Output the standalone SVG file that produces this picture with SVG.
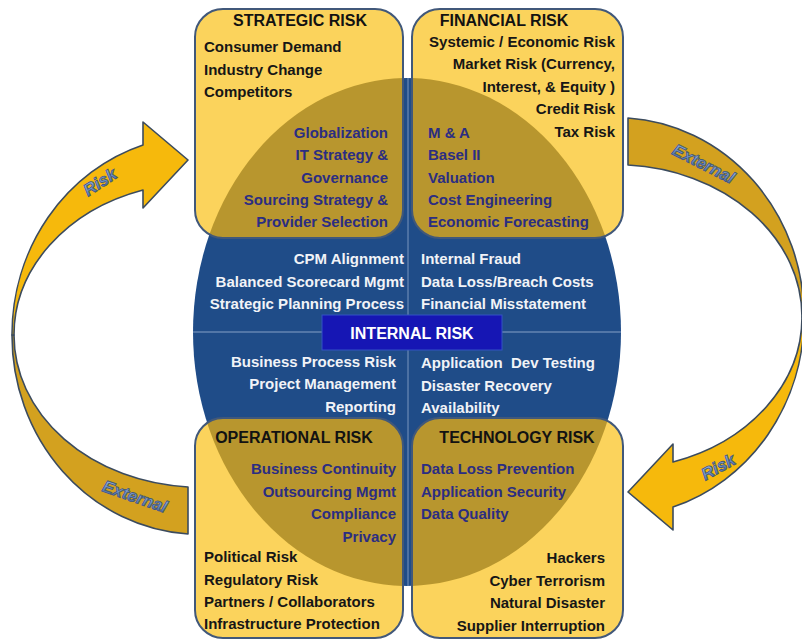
<svg xmlns="http://www.w3.org/2000/svg" xmlns:xlink="http://www.w3.org/1999/xlink" width="802" height="640" viewBox="0 0 802 640">
  <style>
    .box { fill: #FBD35C; }
    .edge { fill: none; stroke: #41587A; stroke-width: 2; }
    .overlap { fill: #B8962E; }
    .core { fill: #1F4C88; }
    .divider { stroke: #6585B2; stroke-width: 1.3; }
    .t { font-family: "Liberation Sans", Arial, sans-serif; font-weight: bold; font-size: 15px; }
    .h { font-size: 16px; fill: #121212; text-anchor: middle; }
    .k { fill: #161616; }
    .n { fill: #2B2D82; }
    .w { fill: #F1F3F7; }
    .e { text-anchor: end; }
    .label { font-size: 16px; fill: #FFFFFF; text-anchor: middle; }
    .front { fill: #F6B90C; stroke: #3B4B5E; stroke-width: 1.6; stroke-linejoin: round; }
    .back { fill: #D3A11F; stroke: #3B4B5E; stroke-width: 1.6; stroke-linejoin: round; }
    .wa { font-family: "Liberation Sans", Arial, sans-serif; font-weight: bold; font-style: italic; font-size: 17px; fill: url(#wordart); stroke: #44587A; stroke-width: 0.9; text-anchor: middle; }
  </style>
  <defs>
    <linearGradient id="wordart" x1="0" y1="0" x2="0" y2="1">
      <stop offset="0" stop-color="#A6C0EA"/>
      <stop offset="0.5" stop-color="#7296CE"/>
      <stop offset="1" stop-color="#3F63A2"/>
    </linearGradient>
    <rect id="r-strat" x="195" y="9" width="208" height="229" rx="28"/>
    <rect id="r-fin" x="412" y="9" width="211" height="229" rx="28"/>
    <rect id="r-op" x="195" y="418" width="208" height="220" rx="28"/>
    <rect id="r-tech" x="412" y="418" width="211" height="220" rx="28"/>
    <ellipse id="core-shape" cx="407" cy="332" rx="214" ry="254"/>
    <clipPath id="c-strat"><use xlink:href="#r-strat"/></clipPath>
    <clipPath id="c-fin"><use xlink:href="#r-fin"/></clipPath>
    <clipPath id="c-op"><use xlink:href="#r-op"/></clipPath>
    <clipPath id="c-tech"><use xlink:href="#r-tech"/></clipPath>
    <!-- curved block arrow: shaded tail sweeping round to a light head -->
    <g id="curved-arrow">
      <path class="back" d="M12,335 A188,199 0 0 0 188,534 L188,487 A186,152 0 0 1 14,335 Z"/>
      <path class="front" d="M143,145 A188,199 0 0 0 12,335 L14,335 A186,152 0 0 1 143,190 L143,208 L188,160 L143,122 Z"/>
    </g>
  </defs>

  <rect width="802" height="640" fill="#FFFFFF"/>

  <!-- external risk arrows -->
  <g id="connectors">
    <use xlink:href="#curved-arrow"/>
    <use xlink:href="#curved-arrow" transform="rotate(180 408 326)"/>
    <text class="wa" transform="translate(103 187) rotate(-33)">Risk</text>
    <text class="wa" transform="translate(133 502) rotate(19)">External</text>
    <text class="wa" transform="translate(701 169) rotate(27)">External</text>
    <text class="wa" transform="translate(721 472) rotate(-29)">Risk</text>
  </g>

  <!-- internal risk core -->
  <g id="internal-risk">
    <use xlink:href="#core-shape" class="core"/>
    <line class="divider" x1="408" y1="78" x2="408" y2="586"/>
    <line class="divider" x1="193" y1="332" x2="621" y2="332"/>
    <g class="t w">
      <text class="e" x="404" y="264">CPM Alignment</text>
      <text class="e" x="404" y="287">Balanced Scorecard Mgmt</text>
      <text class="e" x="404" y="309">Strategic Planning Process</text>
      <text x="421" y="264">Internal Fraud</text>
      <text x="421" y="287">Data Loss/Breach Costs</text>
      <text x="421" y="309">Financial Misstatement</text>
      <text class="e" x="396" y="367">Business Process Risk</text>
      <text class="e" x="396" y="389">Project Management</text>
      <text class="e" x="396" y="412">Reporting</text>
      <text x="421" y="368" xml:space="preserve">Application  Dev Testing</text>
      <text x="421" y="391">Disaster Recovery</text>
      <text x="421" y="413">Availability</text>
    </g>
    <rect x="322" y="315" width="180" height="35" fill="#1616B4" stroke="#3352C4" stroke-width="1"/>
    <text class="t label" x="412" y="339">INTERNAL RISK</text>
  </g>

  <!-- strategic risk -->
  <g id="strategic-risk">
    <use xlink:href="#r-strat" class="box"/>
    <use xlink:href="#core-shape" class="overlap" clip-path="url(#c-strat)"/>
    <use xlink:href="#r-strat" class="edge"/>
    <text class="t h" x="300" y="26">STRATEGIC RISK</text>
    <g class="t k">
      <text x="204" y="52">Consumer Demand</text>
      <text x="204" y="75">Industry Change</text>
      <text x="204" y="97">Competitors</text>
    </g>
    <g class="t n e">
      <text x="388" y="137.5">Globalization</text>
      <text x="388" y="160">IT Strategy &amp;</text>
      <text x="388" y="182.5">Governance</text>
      <text x="388" y="205">Sourcing Strategy &amp;</text>
      <text x="388" y="227">Provider Selection</text>
    </g>
  </g>

  <!-- financial risk -->
  <g id="financial-risk">
    <use xlink:href="#r-fin" class="box"/>
    <use xlink:href="#core-shape" class="overlap" clip-path="url(#c-fin)"/>
    <use xlink:href="#r-fin" class="edge"/>
    <text class="t h" x="504" y="26">FINANCIAL RISK</text>
    <g class="t k e">
      <text x="615" y="47">Systemic / Economic Risk</text>
      <text x="615" y="69">Market Risk (Currency,</text>
      <text x="615" y="91.5">Interest, &amp; Equity )</text>
      <text x="615" y="114">Credit Risk</text>
      <text x="615" y="136.5">Tax Risk</text>
    </g>
    <g class="t n">
      <text x="428" y="137.5">M &amp; A</text>
      <text x="428" y="160">Basel II</text>
      <text x="428" y="182.5">Valuation</text>
      <text x="428" y="205">Cost Engineering</text>
      <text x="428" y="227">Economic Forecasting</text>
    </g>
  </g>

  <!-- operational risk -->
  <g id="operational-risk">
    <use xlink:href="#r-op" class="box"/>
    <use xlink:href="#core-shape" class="overlap" clip-path="url(#c-op)"/>
    <use xlink:href="#r-op" class="edge"/>
    <text class="t h" x="294" y="443">OPERATIONAL RISK</text>
    <g class="t n e">
      <text x="396" y="474">Business Continuity</text>
      <text x="396" y="497">Outsourcing Mgmt</text>
      <text x="396" y="519">Compliance</text>
      <text x="396" y="542">Privacy</text>
    </g>
    <g class="t k">
      <text x="204" y="562">Political Risk</text>
      <text x="204" y="585">Regulatory Risk</text>
      <text x="204" y="607">Partners / Collaborators</text>
      <text x="204" y="629">Infrastructure Protection</text>
    </g>
  </g>

  <!-- technology risk -->
  <g id="technology-risk">
    <use xlink:href="#r-tech" class="box"/>
    <use xlink:href="#core-shape" class="overlap" clip-path="url(#c-tech)"/>
    <use xlink:href="#r-tech" class="edge"/>
    <text class="t h" x="517" y="443">TECHNOLOGY RISK</text>
    <g class="t n">
      <text x="421" y="474">Data Loss Prevention</text>
      <text x="421" y="497">Application Security</text>
      <text x="421" y="519">Data Quality</text>
    </g>
    <g class="t k e">
      <text x="605" y="563">Hackers</text>
      <text x="605" y="586">Cyber Terrorism</text>
      <text x="605" y="608">Natural Disaster</text>
      <text x="605" y="631">Supplier Interruption</text>
    </g>
  </g>
</svg>
